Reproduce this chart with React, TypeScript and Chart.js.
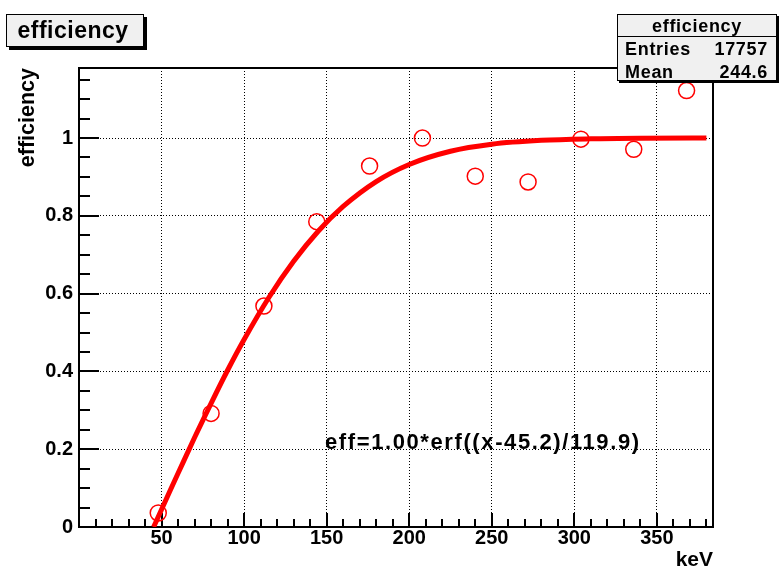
import React, { useEffect, useRef } from 'react';
import { Chart, registerables } from 'chart.js';

Chart.register(...registerables);

// ---- data ----
const binCenters = [48, 80, 112, 144, 176, 208, 240, 272, 304, 336, 368];
const efficiency = [0.036, 0.292, 0.568, 0.785, 0.928, 1.0, 0.902, 0.887, 0.997, 0.971, 1.122];

const fitX = [45.2, 50, 55, 60, 70, 80, 90, 100, 115, 130, 145, 160, 180, 200, 225, 250, 280, 310, 340, 380];
const fitY = [0.0, 0.045, 0.092, 0.138, 0.23, 0.318, 0.403, 0.482, 0.59, 0.683, 0.761, 0.824, 0.888, 0.932, 0.966, 0.984, 0.994, 0.998, 0.9995, 0.9999];

const xTickValues = [50, 100, 150, 200, 250, 300, 350];
const yTickValues = [0, 0.2, 0.4, 0.6, 0.8, 1];

const titleText = 'efficiency';
const statsHeader = 'efficiency';
const statsLabels = ['Entries', 'Mean'];
const statsValues = ['17757', '244.6'];
const fitLabel = 'eff=1.00*erf((x-45.2)/119.9)';
const xTitle = 'keV';
const yTitle = 'efficiency';

const X_MIN = 0;
const X_MAX = 384;
const Y_MIN = 0;
const Y_MAX = 1.18;
const X_MINOR = 10;
const Y_MINOR = 0.05;

const FONT = '"Liberation Sans", Arial, Helvetica, sans-serif';

const frameTicksPlugin = {
  id: 'frameTicks',
  beforeDatasetsDraw(chart: any) {
    const { ctx, chartArea: a, scales } = chart;
    const xs = scales.x;
    const ys = scales.y;
    ctx.save();
    ctx.strokeStyle = '#000';
    ctx.lineWidth = 2;
    ctx.setLineDash([]);
    const nX = Math.round((X_MAX - X_MIN) / X_MINOR);
    for (let i = 1; i <= nX; i++) {
      const v = X_MIN + i * X_MINOR;
      if (v >= X_MAX) break;
      const px = Math.round(xs.getPixelForValue(v));
      const major = xTickValues.includes(v);
      const len = major ? 14 : 8;
      ctx.beginPath();
      ctx.moveTo(px, a.bottom);
      ctx.lineTo(px, a.bottom - len);
      ctx.stroke();
    }
    const nY = Math.round((Y_MAX - Y_MIN) / Y_MINOR);
    for (let i = 1; i <= nY; i++) {
      const v = Y_MIN + i * Y_MINOR;
      if (v >= Y_MAX) break;
      const py = Math.round(ys.getPixelForValue(v));
      const major = i % 4 === 0;
      const len = major ? 20 : 11;
      ctx.beginPath();
      ctx.moveTo(a.left, py);
      ctx.lineTo(a.left + len, py);
      ctx.stroke();
    }
    ctx.strokeRect(a.left, a.top, a.right - a.left, a.bottom - a.top);
    ctx.restore();
  },
};

const boxesPlugin = {
  id: 'boxes',
  afterDraw(chart: any) {
    const { ctx, scales } = chart;
    ctx.save();
    ctx.setLineDash([]);
    ctx.fillStyle = '#000';

    // fit label
    ctx.font = `bold 22px ${FONT}`;
    (ctx as any).letterSpacing = '1.6px';
    ctx.textAlign = 'left';
    ctx.textBaseline = 'middle';
    ctx.fillText(fitLabel, scales.x.getPixelForValue(149), scales.y.getPixelForValue(0.216));

    // title box
    ctx.textBaseline = 'alphabetic';
    ctx.fillStyle = '#000';
    ctx.fillRect(9, 17, 138, 33);
    ctx.fillStyle = '#f0f0f0';
    ctx.fillRect(6, 14, 138, 33);
    ctx.strokeStyle = '#000';
    ctx.lineWidth = 1;
    ctx.strokeRect(6.5, 14.5, 137, 32);
    ctx.fillStyle = '#000';
    ctx.font = `bold 23px ${FONT}`;
    (ctx as any).letterSpacing = '0.5px';
    ctx.textAlign = 'center';
    ctx.fillText(titleText, 73, 38);

    // stats box
    ctx.fillStyle = '#000';
    ctx.fillRect(619, 16, 160, 67);
    ctx.fillStyle = '#f0f0f0';
    ctx.fillRect(617, 14, 160, 67);
    ctx.strokeStyle = '#000';
    ctx.strokeRect(617.5, 14.5, 159, 66);
    ctx.beginPath();
    ctx.moveTo(617, 36.5);
    ctx.lineTo(777, 36.5);
    ctx.stroke();
    ctx.fillStyle = '#000';
    ctx.font = `bold 18px ${FONT}`;
    (ctx as any).letterSpacing = '0.7px';
    ctx.textAlign = 'center';
    ctx.fillText(statsHeader, 697, 32);
    const baselines = [55, 78];
    statsLabels.forEach((lab, i) => {
      ctx.textAlign = 'left';
      ctx.fillText(lab, 625, baselines[i]);
      ctx.textAlign = 'right';
      ctx.fillText(statsValues[i], 768, baselines[i]);
    });
    (ctx as any).letterSpacing = '0px';
    ctx.restore();
  },
};

const gridColor = (c: any) =>
  c.tick && (c.tick.value === 0) ? 'rgba(0,0,0,0)' : '#000';

export default function App() {
  const canvasRef = useRef<HTMLCanvasElement | null>(null);

  useEffect(() => {
    document.body.style.margin = '0';
    const canvas = canvasRef.current;
    if (!canvas) return;
    const points = binCenters.map((x, i) => ({ x, y: efficiency[i] }));
    const curve = fitX.map((x, i) => ({ x, y: fitY[i] }));

    const chart = new Chart(canvas, {
      type: 'scatter',
      data: {
        datasets: [
          {
            label: 'data',
            data: points,
            showLine: false,
            pointStyle: 'circle',
            pointRadius: 8,
            pointBorderWidth: 1.5,
            pointBorderColor: '#ff0000',
            pointBackgroundColor: 'rgba(0,0,0,0)',
            borderColor: '#ff0000',
            backgroundColor: 'rgba(0,0,0,0)',
          },
          {
            label: 'fit',
            data: curve,
            showLine: true,
            borderColor: '#ff0000',
            borderWidth: 5,
            pointRadius: 0,
            cubicInterpolationMode: 'monotone',
            fill: false,
          } as any,
        ],
      },
      options: {
        responsive: false,
        animation: false,
        devicePixelRatio: 1,
        layout: { padding: { left: 0, top: 68, right: 66, bottom: 0 } },
        plugins: {
          legend: { display: false },
          tooltip: { enabled: false },
        },
        scales: {
          x: {
            type: 'linear',
            min: X_MIN,
            max: X_MAX,
            afterFit: (s: any) => {
              s.height = 42;
            },
            border: { display: false, dash: [1, 2] },
            grid: { drawTicks: false, color: gridColor, lineWidth: 1 },
            ticks: {
              stepSize: 50,
              includeBounds: false,
              autoSkip: false,
              maxRotation: 0,
              padding: 0,
              color: '#000',
              font: { family: FONT, weight: 'bold', size: 20, lineHeight: 1.1 },
              callback: (v: any) => (xTickValues.includes(Number(v)) ? String(v) : ''),
            },
            title: {
              display: true,
              text: xTitle,
              align: 'end',
              color: '#000',
              font: { family: FONT, weight: 'bold', size: 21, lineHeight: 1 },
              padding: { top: 0, bottom: -2 },
            },
          },
          y: {
            type: 'linear',
            min: Y_MIN,
            max: Y_MAX,
            afterFit: (s: any) => {
              s.width = 79;
            },
            border: { display: false, dash: [1, 2] },
            grid: { drawTicks: false, color: gridColor, lineWidth: 1 },
            ticks: {
              stepSize: 0.2,
              includeBounds: false,
              autoSkip: false,
              padding: 6,
              color: '#000',
              font: { family: FONT, weight: 'bold', size: 20 },
              callback: (v: any) => {
                const r = Math.round(Number(v) * 10) / 10;
                return yTickValues.includes(r) ? String(r) : '';
              },
            },
            title: {
              display: true,
              text: yTitle,
              align: 'end',
              color: '#000',
              font: { family: FONT, weight: 'bold', size: 21.5 },
              padding: { top: 15, bottom: 0 },
            },
          },
        },
      } as any,
      plugins: [frameTicksPlugin, boxesPlugin],
    });
    return () => chart.destroy();
  }, []);

  return (
    <div style={{ position: 'fixed', left: 0, top: 0, width: 779, height: 569, background: '#fff' }}>
      <canvas ref={canvasRef} width={779} height={569} style={{ display: 'block' }} />
    </div>
  );
}
